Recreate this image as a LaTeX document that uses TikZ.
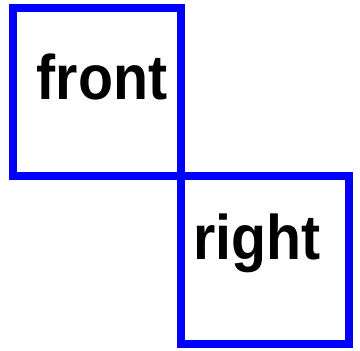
\documentclass[tikz,border=0pt]{standalone}
\usepackage{fontspec}
\setmainfont{Liberation Sans}
\begin{document}
\begin{tikzpicture}[x=1pt,y=-1pt,
  sq/.style={draw=blue,line width=7.7pt,minimum size=168pt,inner sep=0pt,outer sep=0pt},
  lbl/.style={font=\fontsize{63}{63}\selectfont\bfseries,inner sep=0pt,anchor=base west,xscale=0.91}]
\useasboundingbox (0,0) rectangle (360,351);
\node[sq] (front) at (97,92) {};
\node[sq] (right) at (265,260) {};
\node[lbl] (tfront) at (36.5,99) {front};
\node[lbl] (tright) at (193,259) {right};
\end{tikzpicture}
\end{document}
